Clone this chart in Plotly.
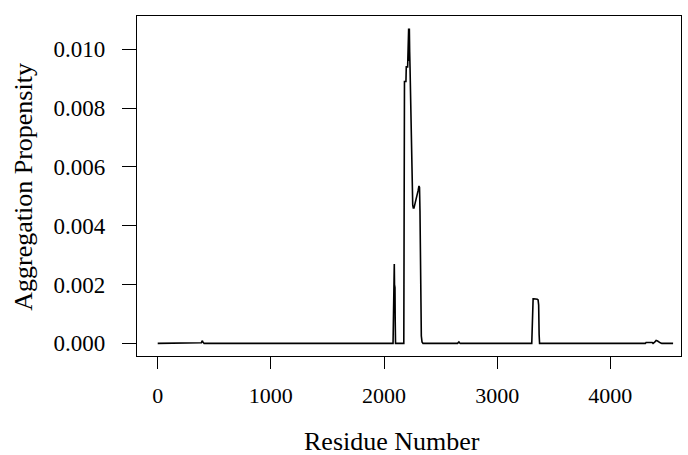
import plotly.graph_objects as go

# Aggregation propensity profile along the protein sequence
residue = [0, 380, 386, 391, 395, 399, 404, 410,
           2080, 2083, 2085, 2087, 2089, 2091, 2093, 2095, 2097, 2099, 2102,
           2175, 2178, 2181, 2194, 2197, 2209, 2212, 2215, 2218, 2221, 2224,
           2227, 2230, 2234, 2239, 2244, 2249, 2254, 2259, 2265, 2271, 2278,
           2286, 2294, 2302, 2309, 2314, 2318, 2322, 2325, 2330, 2336, 2345,
           2650, 2656, 2662, 2668, 2674,
           3306, 3310, 3314, 3318, 3324, 3340, 3355, 3362, 3367, 3371, 3375,
           4310, 4316, 4370, 4378, 4392, 4405, 4418, 4430, 4442, 4455, 4465,
           4555]
propensity = [0.0, 0.0, 0.00002, 0.00007, 0.00009, 0.00005, 0.00001, 0.0,
              0.0, 0.0010, 0.0019, 0.0027, 0.0023, 0.0027, 0.0020, 0.0019, 0.0019, 0.0008, 0.0,
              0.0, 0.0089, 0.0089, 0.0089, 0.0094, 0.0094, 0.0106, 0.0098, 0.0107, 0.0096, 0.0107,
              0.0099, 0.0094, 0.0084, 0.0071, 0.0058, 0.0049, 0.0047, 0.0046, 0.0046, 0.0047, 0.0048,
              0.0049, 0.0051, 0.0052, 0.00535, 0.0053, 0.0045, 0.0018, 0.0006, 0.00025, 0.00005, 0.0,
              0.0, 0.00003, 0.00005, 0.00002, 0.0,
              0.0, 0.0011, 0.00148, 0.00152, 0.00152, 0.00152, 0.0015, 0.00148, 0.0013, 0.0003, 0.0,
              0.0, 0.00003, 0.00003, 0.0, 0.00004, 0.0001, 0.00008, 0.00004, 0.00002, 0.0, 0.0,
              0.0]

x_ticks = [0, 1000, 2000, 3000, 4000]
y_ticks = [0.000, 0.002, 0.004, 0.006, 0.008, 0.010]
x_title = "Residue Number"
y_title = "Aggregation Propensity"

serif = "Liberation Serif, Times New Roman, serif"

fig = go.Figure(
    go.Scatter(
        x=residue, y=propensity, mode="lines",
        line=dict(color="black", width=1.6),
        hoverinfo="skip",
    )
)

fig.update_layout(
    width=688, height=455,
    margin=dict(l=137, r=7, t=16, b=99),
    plot_bgcolor="white", paper_bgcolor="white",
    showlegend=False,
    font=dict(family=serif, color="black"),
)

fig.update_xaxes(
    range=[-183, 4625],
    tickvals=x_ticks, ticktext=[str(v) for v in x_ticks],
    ticks="outside", ticklen=12, tickwidth=1.3, tickcolor="black",
    tickfont=dict(size=22, family=serif),
    ticklabelstandoff=7,
    showline=True, linecolor="black", linewidth=1.3, mirror=True,
    showgrid=False, zeroline=False,
)

fig.update_yaxes(
    range=[-0.000428, 0.011128],
    tickvals=y_ticks, tickformat=".3f",
    ticks="outside", ticklen=14, tickwidth=1.3, tickcolor="black",
    tickfont=dict(size=23, family=serif),
    ticklabelstandoff=12,
    showline=True, linecolor="black", linewidth=1.3, mirror=True,
    showgrid=False, zeroline=False,
)

# Axis titles placed as paper-anchored annotations
fig.add_annotation(
    text=x_title, xref="paper", yref="paper", x=0.469, y=-0.25,
    xanchor="center", yanchor="middle", showarrow=False,
    font=dict(size=26, family=serif, color="black"),
)
fig.add_annotation(
    text=y_title, xref="paper", yref="paper", x=-0.21, y=0.497,
    xanchor="center", yanchor="middle", textangle=-90, showarrow=False,
    font=dict(size=26, family=serif, color="black"),
)

fig.write_html("out.html")
